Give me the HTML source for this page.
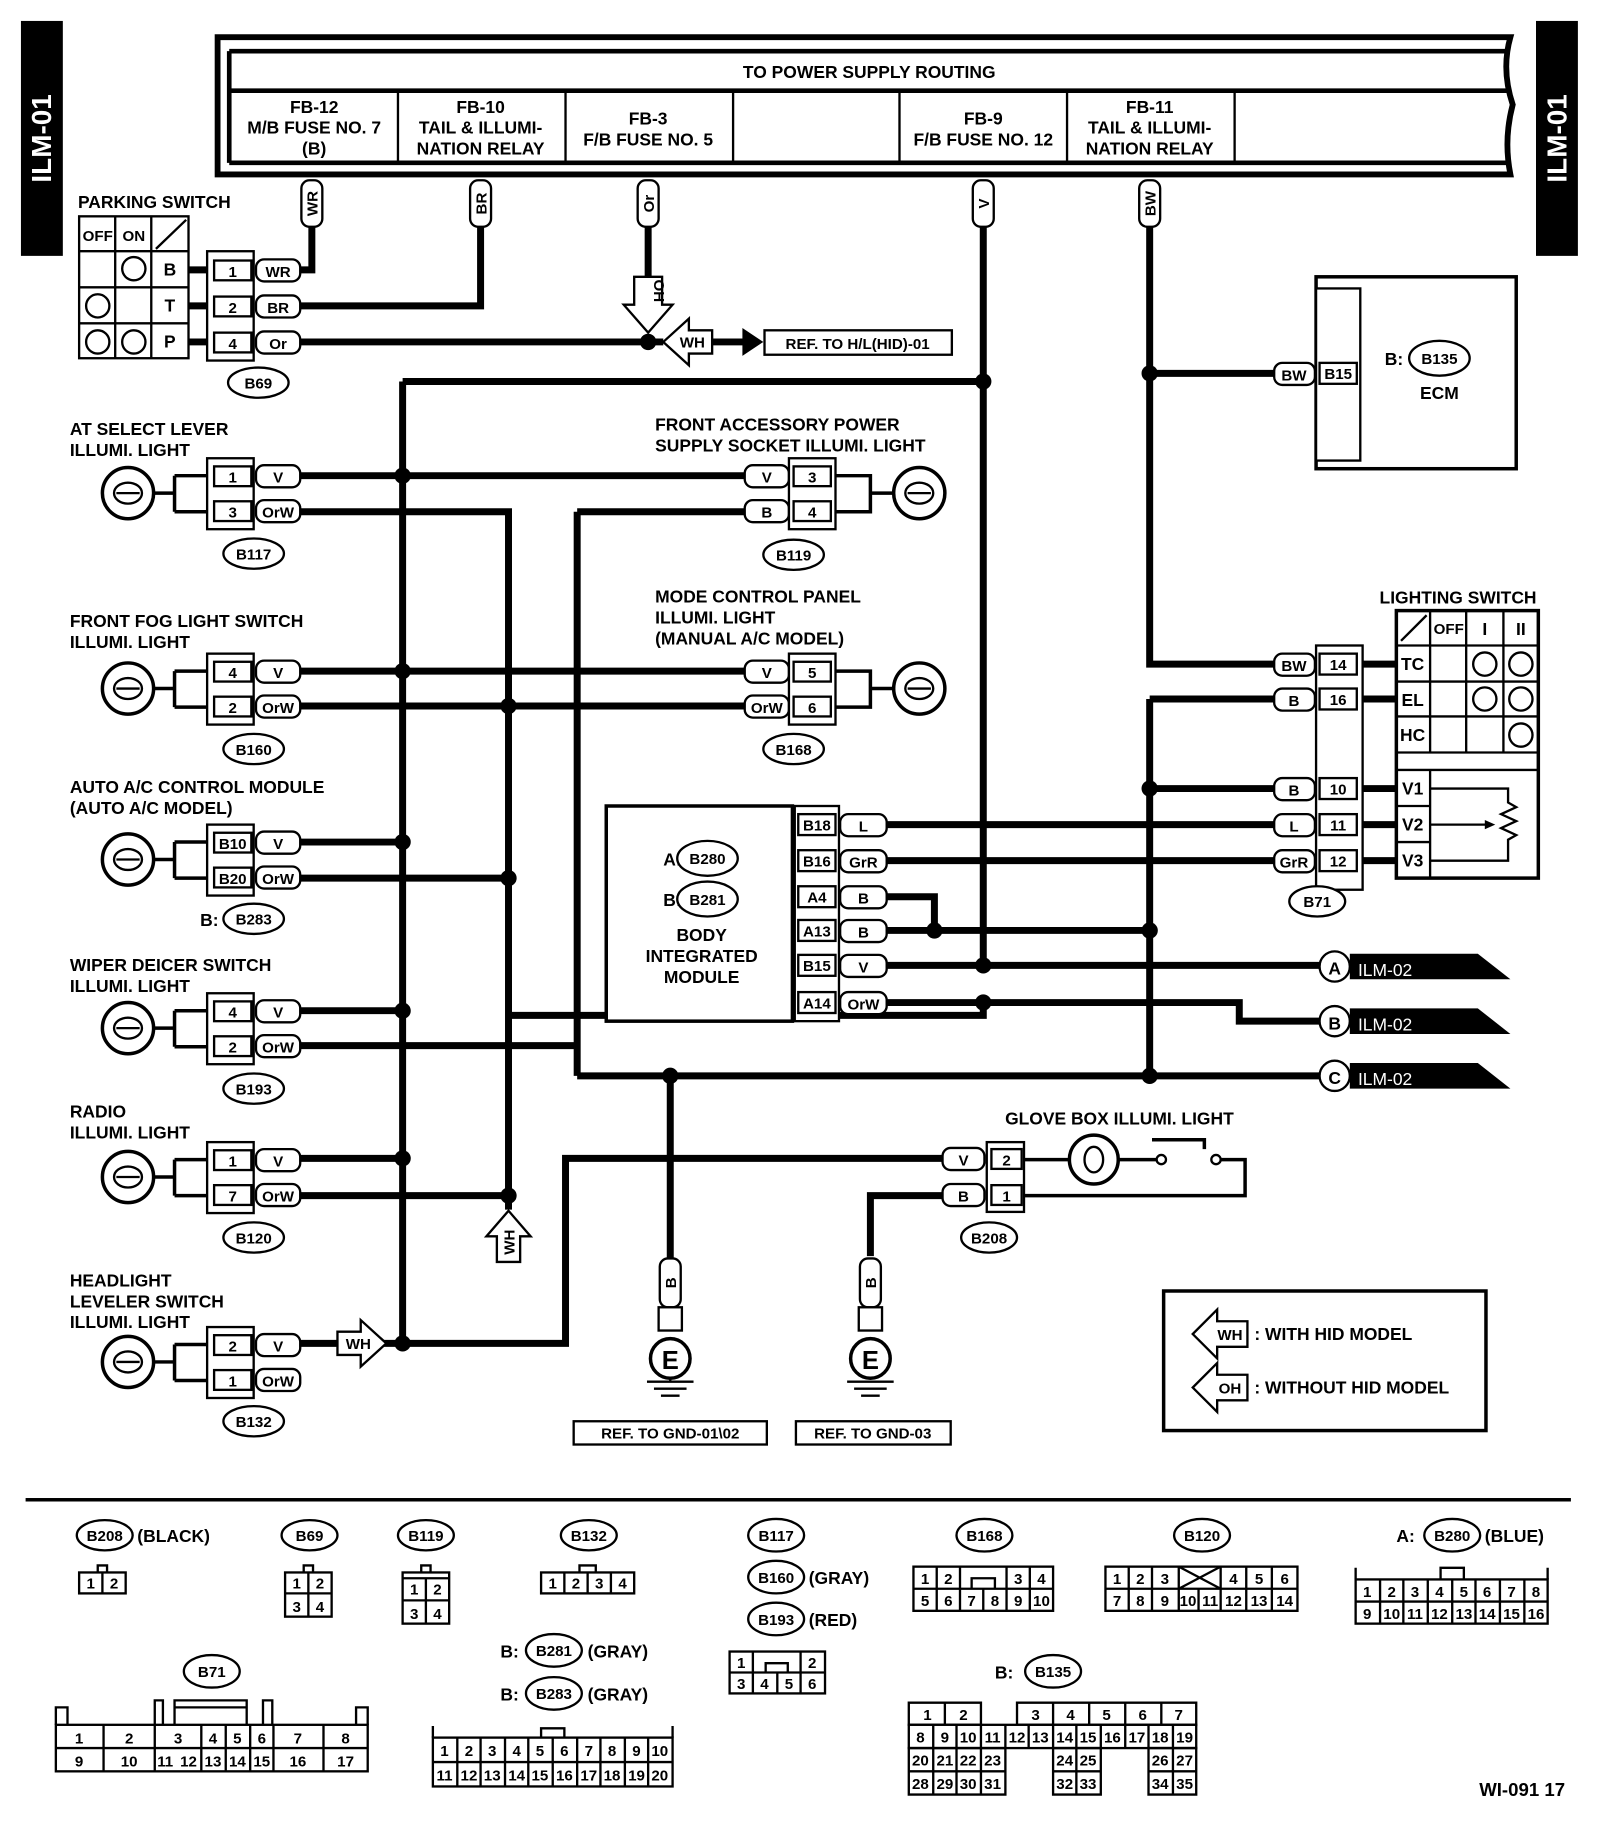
<!DOCTYPE html>
<html><head><meta charset="utf-8"><style>
html,body{margin:0;padding:0;background:#fff;}
svg{display:block;}
text{font-family:"Liberation Sans Narrow","Liberation Sans",sans-serif;font-weight:bold;fill:#000;}
.t{font-size:15px;}
.s{font-size:13px;}
.c{text-anchor:middle;}
.w{fill:none;stroke:#000;stroke-width:6;}
.th{fill:none;stroke:#000;stroke-width:2;}
.bx{fill:#fff;stroke:#000;stroke-width:2;}
</style></head><body>
<svg width="1600" height="1826" viewBox="0 0 1375 1570" preserveAspectRatio="none" xmlns="http://www.w3.org/2000/svg">
<defs>
<g id="dot"><circle r="7" fill="#000"/></g>
</defs>
<!-- side tabs -->
<rect x="18" y="18" width="36" height="202" fill="#000"/>
<text transform="translate(44,119) rotate(-90)" class="c" style="font-size:24px;fill:#fff;font-family:'Liberation Sans',sans-serif">ILM-01</text>
<rect x="1320" y="18" width="36" height="202" fill="#000"/>
<text transform="translate(1346,119) rotate(-90)" class="c" style="font-size:24px;fill:#fff;font-family:'Liberation Sans',sans-serif">ILM-01</text>

<!-- header box -->
<path d="M187 32 H1298 Q1290 60 1300 90 Q1292 120 1298 150 H187 Z" fill="#fff" stroke="#000" stroke-width="5"/>
<path d="M197 44 H1295 M197 140 H1295 M197 44 V140 M197 78 H1295" class="th" style="stroke-width:4"/>
<path d="M342 78 V140 M486 78 V140 M630 78 V140 M773 78 V140 M917 78 V140 M1061 78 V140" class="th"/>
<text x="747" y="67" class="t c">TO POWER SUPPLY ROUTING</text>
<text x="270" y="97" class="t c">FB-12</text><text x="270" y="115" class="t c">M/B FUSE NO. 7</text><text x="270" y="133" class="t c">(B)</text>
<text x="413" y="97" class="t c">FB-10</text><text x="413" y="115" class="t c">TAIL &amp; ILLUMI-</text><text x="413" y="133" class="t c">NATION RELAY</text>
<text x="557" y="107" class="t c">FB-3</text><text x="557" y="125" class="t c">F/B FUSE NO. 5</text>
<text x="845" y="107" class="t c">FB-9</text><text x="845" y="125" class="t c">F/B FUSE NO. 12</text>
<text x="988" y="97" class="t c">FB-11</text><text x="988" y="115" class="t c">TAIL &amp; ILLUMI-</text><text x="988" y="133" class="t c">NATION RELAY</text>

<!-- wires -->
<g class="w">
<path d="M268 195 V232 H258"/>
<path d="M413 195 V263 H258"/>
<path d="M557 195 V240"/>
<path d="M258 294 H570"/>
<path d="M612 294 H640"/>
<path d="M845 195 V830"/>
<path d="M346 328 H845"/>
<path d="M346 328 V1155"/>
<path d="M988 195 V571 H1095"/>
<path d="M988 321 H1095"/>
<path d="M988 601 H1095"/>
<path d="M988 601 V925"/>
<path d="M988 678 H1095"/>
<path d="M762 709 H1095"/>
<path d="M762 740 H1095"/>
<path d="M762 771 H803 V800"/>
<path d="M762 800 H988"/>
<path d="M762 830 H1135"/>
<path d="M762 862 H1065 V878 H1135"/>
<path d="M845 862 V873 H437"/>
<path d="M496 925 H1135"/>
<path d="M496 440 V925"/>
<path d="M496 440 H640"/>
<path d="M258 409 H640"/>
<path d="M258 440 H437 V1040"/>
<path d="M258 577 H640"/>
<path d="M258 607 H640"/>
<path d="M258 724 H346"/>
<path d="M258 755 H437"/>
<path d="M258 869 H346"/>
<path d="M258 899 H496"/>
<path d="M258 996 H346"/>
<path d="M258 1028 H437"/>
<path d="M258 1155 H290"/>
<path d="M330 1155 H486 V996 H810"/>
<path d="M748 1080 V1028 H810"/>
<path d="M576 925 V1082"/>
</g>
<g>
<use href="#dot" x="557" y="294"/><use href="#dot" x="845" y="328"/><use href="#dot" x="988" y="321"/>
<use href="#dot" x="346" y="409"/><use href="#dot" x="346" y="577"/><use href="#dot" x="437" y="607"/>
<use href="#dot" x="346" y="724"/><use href="#dot" x="437" y="755"/><use href="#dot" x="346" y="869"/>
<use href="#dot" x="346" y="996"/><use href="#dot" x="437" y="1028"/><use href="#dot" x="346" y="1155"/>
<use href="#dot" x="988" y="678"/><use href="#dot" x="803" y="800"/><use href="#dot" x="988" y="800"/>
<use href="#dot" x="845" y="830"/><use href="#dot" x="845" y="862"/><use href="#dot" x="988" y="925"/><use href="#dot" x="576" y="925"/>
</g>

<!-- vertical wire tags -->
<g>
<rect x="259" y="155" width="18" height="40" rx="7" class="bx"/><text transform="translate(273,175) rotate(-90)" class="s c">WR</text>
<rect x="404" y="155" width="18" height="40" rx="7" class="bx"/><text transform="translate(418,175) rotate(-90)" class="s c">BR</text>
<rect x="548" y="155" width="18" height="40" rx="7" class="bx"/><text transform="translate(562,175) rotate(-90)" class="s c">Or</text>
<rect x="836" y="155" width="18" height="40" rx="7" class="bx"/><text transform="translate(850,175) rotate(-90)" class="s c">V</text>
<rect x="979" y="155" width="18" height="40" rx="7" class="bx"/><text transform="translate(993,175) rotate(-90)" class="s c">BW</text>
</g>

<!-- OH arrow down -->
<path d="M545 238 H569 V262 H578 L557 286 L536 262 H545 Z" class="bx"/>
<text transform="translate(562,250) rotate(90)" class="s c">OH</text>
<!-- WH arrow left -->
<path d="M612 284 V304 H592 V314 L570 294 L592 274 V284 Z" class="bx"/>
<text x="595" y="299" class="s c">WH</text>
<path d="M638 282 L656 294 L638 306 Z" fill="#000"/>
<rect x="657" y="284" width="161" height="21" class="bx"/>
<text x="737" y="300" class="s c">REF. TO H/L(HID)-01</text>

<!-- parking switch -->
<text x="67" y="179" class="t">PARKING SWITCH</text>
<rect x="68" y="186" width="94" height="122" class="bx"/>
<path d="M68 216 H162 M68 247 H162 M68 278 H162 M99 186 V308 M130 186 V308 M134 214 L160 189" class="th"/>
<text x="84" y="207" class="s c">OFF</text><text x="115" y="207" class="s c">ON</text>
<circle cx="115" cy="231" r="10" class="th"/><circle cx="84" cy="263" r="10" class="th"/>
<circle cx="84" cy="294" r="10" class="th"/><circle cx="115" cy="294" r="10" class="th"/>
<text x="146" y="237" class="t c">B</text><text x="146" y="268" class="t c">T</text><text x="146" y="299" class="t c">P</text>
<path d="M162 232 H178 M162 263 H178 M162 294 H178" class="w"/>
<rect x="178" y="216" width="40" height="94" class="bx"/>
<rect x="184" y="224" width="32" height="17" class="bx"/><text x="200" y="238" class="s c">1</text>
<rect x="184" y="255" width="32" height="17" class="bx"/><text x="200" y="269" class="s c">2</text>
<rect x="184" y="286" width="32" height="17" class="bx"/><text x="200" y="300" class="s c">4</text>
<rect x="220" y="223" width="38" height="19" rx="7" class="bx"/><text x="239" y="238" class="s c">WR</text>
<rect x="220" y="254" width="38" height="19" rx="7" class="bx"/><text x="239" y="269" class="s c">BR</text>
<rect x="220" y="285" width="38" height="19" rx="7" class="bx"/><text x="239" y="300" class="s c">Or</text>
<ellipse cx="222" cy="329" rx="26" ry="13" class="bx"/><text x="222" y="334" class="s c">B69</text>

<!-- left components -->
<g id="lc">
</g>
<!-- AT select -->
<text x="60" y="374" class="t">AT SELECT LEVER</text><text x="60" y="392" class="t">ILLUMI. LIGHT</text>
<!-- front fog -->
<text x="60" y="539" class="t">FRONT FOG LIGHT SWITCH</text><text x="60" y="557" class="t">ILLUMI. LIGHT</text>
<text x="60" y="682" class="t">AUTO A/C CONTROL MODULE</text><text x="60" y="700" class="t">(AUTO A/C MODEL)</text>
<text x="60" y="835" class="t">WIPER DEICER SWITCH</text><text x="60" y="853" class="t">ILLUMI. LIGHT</text>
<text x="60" y="961" class="t">RADIO</text><text x="60" y="979" class="t">ILLUMI. LIGHT</text>
<text x="60" y="1106" class="t">HEADLIGHT</text><text x="60" y="1124" class="t">LEVELER SWITCH</text><text x="60" y="1142" class="t">ILLUMI. LIGHT</text>

<!-- generic left connector: bulb + connector -->
<g>
<!-- helper repeated -->
<g transform="translate(0,409)">
<circle cx="110" cy="15" r="22" class="th" style="stroke-width:3"/><ellipse cx="110" cy="15" rx="12" ry="9" class="th"/><path d="M100 15 H120" class="th"/>
<path d="M132 15 H150 M150 0 V31 M150 0 H178 M150 31 H178" class="th" style="stroke-width:3"/>
<rect x="178" y="-15" width="40" height="61" class="bx"/>
<rect x="184" y="-8" width="32" height="17" class="bx"/><rect x="184" y="22" width="32" height="17" class="bx"/>
<rect x="220" y="-9" width="38" height="19" rx="7" class="bx"/><rect x="220" y="21" width="38" height="19" rx="7" class="bx"/>
<text x="200" y="6" class="s c">1</text><text x="200" y="36" class="s c">3</text>
<text x="239" y="6" class="s c">V</text><text x="239" y="36" class="s c">OrW</text>
</g>
<ellipse cx="218" cy="476" rx="26" ry="13" class="bx"/><text x="218" y="481" class="s c">B117</text>

<g transform="translate(0,577)">
<circle cx="110" cy="15" r="22" class="th" style="stroke-width:3"/><ellipse cx="110" cy="15" rx="12" ry="9" class="th"/><path d="M100 15 H120" class="th"/>
<path d="M132 15 H150 M150 0 V31 M150 0 H178 M150 31 H178" class="th" style="stroke-width:3"/>
<rect x="178" y="-15" width="40" height="61" class="bx"/>
<rect x="184" y="-8" width="32" height="17" class="bx"/><rect x="184" y="22" width="32" height="17" class="bx"/>
<rect x="220" y="-9" width="38" height="19" rx="7" class="bx"/><rect x="220" y="21" width="38" height="19" rx="7" class="bx"/>
<text x="200" y="6" class="s c">4</text><text x="200" y="36" class="s c">2</text>
<text x="239" y="6" class="s c">V</text><text x="239" y="36" class="s c">OrW</text>
</g>
<ellipse cx="218" cy="644" rx="26" ry="13" class="bx"/><text x="218" y="649" class="s c">B160</text>

<g transform="translate(0,724)">
<circle cx="110" cy="15" r="22" class="th" style="stroke-width:3"/><ellipse cx="110" cy="15" rx="12" ry="9" class="th"/><path d="M100 15 H120" class="th"/>
<path d="M132 15 H150 M150 0 V31 M150 0 H178 M150 31 H178" class="th" style="stroke-width:3"/>
<rect x="178" y="-15" width="40" height="61" class="bx"/>
<rect x="184" y="-8" width="32" height="17" class="bx"/><rect x="184" y="22" width="32" height="17" class="bx"/>
<rect x="220" y="-9" width="38" height="19" rx="7" class="bx"/><rect x="220" y="21" width="38" height="19" rx="7" class="bx"/>
<text x="200" y="6" class="s c">B10</text><text x="200" y="36" class="s c">B20</text>
<text x="239" y="6" class="s c">V</text><text x="239" y="36" class="s c">OrW</text>
</g>
<text x="172" y="796" class="t">B:</text>
<ellipse cx="218" cy="790" rx="26" ry="13" class="bx"/><text x="218" y="795" class="s c">B283</text>

<g transform="translate(0,869)">
<circle cx="110" cy="15" r="22" class="th" style="stroke-width:3"/><ellipse cx="110" cy="15" rx="12" ry="9" class="th"/><path d="M100 15 H120" class="th"/>
<path d="M132 15 H150 M150 0 V31 M150 0 H178 M150 31 H178" class="th" style="stroke-width:3"/>
<rect x="178" y="-15" width="40" height="61" class="bx"/>
<rect x="184" y="-8" width="32" height="17" class="bx"/><rect x="184" y="22" width="32" height="17" class="bx"/>
<rect x="220" y="-9" width="38" height="19" rx="7" class="bx"/><rect x="220" y="21" width="38" height="19" rx="7" class="bx"/>
<text x="200" y="6" class="s c">4</text><text x="200" y="36" class="s c">2</text>
<text x="239" y="6" class="s c">V</text><text x="239" y="36" class="s c">OrW</text>
</g>
<ellipse cx="218" cy="936" rx="26" ry="13" class="bx"/><text x="218" y="941" class="s c">B193</text>

<g transform="translate(0,997)">
<circle cx="110" cy="15" r="22" class="th" style="stroke-width:3"/><ellipse cx="110" cy="15" rx="12" ry="9" class="th"/><path d="M100 15 H120" class="th"/>
<path d="M132 15 H150 M150 0 V31 M150 0 H178 M150 31 H178" class="th" style="stroke-width:3"/>
<rect x="178" y="-15" width="40" height="61" class="bx"/>
<rect x="184" y="-8" width="32" height="17" class="bx"/><rect x="184" y="22" width="32" height="17" class="bx"/>
<rect x="220" y="-9" width="38" height="19" rx="7" class="bx"/><rect x="220" y="21" width="38" height="19" rx="7" class="bx"/>
<text x="200" y="6" class="s c">1</text><text x="200" y="36" class="s c">7</text>
<text x="239" y="6" class="s c">V</text><text x="239" y="36" class="s c">OrW</text>
</g>
<ellipse cx="218" cy="1064" rx="26" ry="13" class="bx"/><text x="218" y="1069" class="s c">B120</text>

<g transform="translate(0,1156)">
<circle cx="110" cy="15" r="22" class="th" style="stroke-width:3"/><ellipse cx="110" cy="15" rx="12" ry="9" class="th"/><path d="M100 15 H120" class="th"/>
<path d="M132 15 H150 M150 0 V31 M150 0 H178 M150 31 H178" class="th" style="stroke-width:3"/>
<rect x="178" y="-15" width="40" height="61" class="bx"/>
<rect x="184" y="-8" width="32" height="17" class="bx"/><rect x="184" y="22" width="32" height="17" class="bx"/>
<rect x="220" y="-9" width="38" height="19" rx="7" class="bx"/><rect x="220" y="21" width="38" height="19" rx="7" class="bx"/>
<text x="200" y="6" class="s c">2</text><text x="200" y="36" class="s c">1</text>
<text x="239" y="6" class="s c">V</text><text x="239" y="36" class="s c">OrW</text>
</g>
<ellipse cx="218" cy="1222" rx="26" ry="13" class="bx"/><text x="218" y="1227" class="s c">B132</text>
</g>

<!-- WH arrow right on HL leveler -->
<path d="M290 1145 H310 V1135 L332 1155 L310 1175 V1165 H290 Z" class="bx"/>
<text x="308" y="1160" class="s c">WH</text>
<!-- WH arrow up on x437 -->
<path d="M427 1085 V1063 H418 L437 1041 L456 1063 H447 V1085 Z" class="bx"/>
<text transform="translate(442,1068) rotate(-90)" class="s c">WH</text>

<!-- right bulbs (front acc / mode ctrl) -->
<text x="563" y="370" class="t">FRONT ACCESSORY POWER</text><text x="563" y="388" class="t">SUPPLY SOCKET ILLUMI. LIGHT</text>
<text x="563" y="518" class="t">MODE CONTROL PANEL</text><text x="563" y="536" class="t">ILLUMI. LIGHT</text><text x="563" y="554" class="t">(MANUAL A/C MODEL)</text>
<g transform="translate(0,409)">
<rect x="640" y="-9" width="38" height="19" rx="7" class="bx"/><rect x="640" y="21" width="38" height="19" rx="7" class="bx"/>
<rect x="678" y="-15" width="40" height="61" class="bx"/>
<rect x="682" y="-8" width="32" height="17" class="bx"/><rect x="682" y="22" width="32" height="17" class="bx"/>
<text x="659" y="6" class="s c">V</text><text x="659" y="36" class="s c">B</text>
<text x="698" y="6" class="s c">3</text><text x="698" y="36" class="s c">4</text>
<path d="M718 0 H748 V31 H718 M748 15 H768" class="th" style="stroke-width:3"/>
<circle cx="790" cy="15" r="22" class="th" style="stroke-width:3"/><ellipse cx="790" cy="15" rx="12" ry="9" class="th"/><path d="M780 15 H800" class="th"/>
</g>
<ellipse cx="682" cy="477" rx="26" ry="13" class="bx"/><text x="682" y="482" class="s c">B119</text>
<g transform="translate(0,577)">
<rect x="640" y="-9" width="38" height="19" rx="7" class="bx"/><rect x="640" y="21" width="38" height="19" rx="7" class="bx"/>
<rect x="678" y="-15" width="40" height="61" class="bx"/>
<rect x="682" y="-8" width="32" height="17" class="bx"/><rect x="682" y="22" width="32" height="17" class="bx"/>
<text x="659" y="6" class="s c">V</text><text x="659" y="36" class="s c">OrW</text>
<text x="698" y="6" class="s c">5</text><text x="698" y="36" class="s c">6</text>
<path d="M718 0 H748 V31 H718 M748 15 H768" class="th" style="stroke-width:3"/>
<circle cx="790" cy="15" r="22" class="th" style="stroke-width:3"/><ellipse cx="790" cy="15" rx="12" ry="9" class="th"/><path d="M780 15 H800" class="th"/>
</g>
<ellipse cx="682" cy="644" rx="26" ry="13" class="bx"/><text x="682" y="649" class="s c">B168</text>

<!-- body integrated module -->
<rect x="521" y="693" width="160" height="185" class="bx" style="stroke-width:3"/>
<rect x="683" y="693" width="38" height="185" class="bx"/>
<text x="570" y="744" class="t">A:</text><ellipse cx="608" cy="738" rx="26" ry="15" class="bx"/><text x="608" y="743" class="s c">B280</text>
<text x="570" y="779" class="t">B:</text><ellipse cx="608" cy="773" rx="26" ry="15" class="bx"/><text x="608" y="778" class="s c">B281</text>
<text x="603" y="809" class="t c">BODY</text><text x="603" y="827" class="t c">INTEGRATED</text><text x="603" y="845" class="t c">MODULE</text>
<g>
<rect x="686" y="700" width="32" height="18" class="bx"/><text x="702" y="714" class="s c">B18</text>
<rect x="686" y="731" width="32" height="18" class="bx"/><text x="702" y="745" class="s c">B16</text>
<rect x="686" y="762" width="32" height="18" class="bx"/><text x="702" y="776" class="s c">A4</text>
<rect x="686" y="791" width="32" height="18" class="bx"/><text x="702" y="805" class="s c">A13</text>
<rect x="686" y="821" width="32" height="18" class="bx"/><text x="702" y="835" class="s c">B15</text>
<rect x="686" y="853" width="32" height="18" class="bx"/><text x="702" y="867" class="s c">A14</text>
<rect x="722" y="700" width="40" height="19" rx="7" class="bx"/><text x="742" y="715" class="s c">L</text>
<rect x="722" y="731" width="40" height="19" rx="7" class="bx"/><text x="742" y="746" class="s c">GrR</text>
<rect x="722" y="762" width="40" height="19" rx="7" class="bx"/><text x="742" y="777" class="s c">B</text>
<rect x="722" y="791" width="40" height="19" rx="7" class="bx"/><text x="742" y="806" class="s c">B</text>
<rect x="722" y="821" width="40" height="19" rx="7" class="bx"/><text x="742" y="836" class="s c">V</text>
<rect x="722" y="853" width="40" height="19" rx="7" class="bx"/><text x="742" y="868" class="s c">OrW</text>
</g>

<!-- ILM-02 flags -->
<g>
<path d="M1160 820 H1270 L1298 842 H1160 Z" fill="#000"/><circle cx="1147" cy="831" r="13" class="bx"/><text x="1147" y="838" class="t c">A</text><text x="1167" y="839" style="font-size:15px;fill:#fff;font-family:'Liberation Sans',sans-serif;font-weight:normal">ILM-02</text>
<path d="M1160 867 H1270 L1298 889 H1160 Z" fill="#000"/><circle cx="1147" cy="878" r="13" class="bx"/><text x="1147" y="885" class="t c">B</text><text x="1167" y="886" style="font-size:15px;fill:#fff;font-family:'Liberation Sans',sans-serif;font-weight:normal">ILM-02</text>
<path d="M1160 914 H1270 L1298 936 H1160 Z" fill="#000"/><circle cx="1147" cy="925" r="13" class="bx"/><text x="1147" y="932" class="t c">C</text><text x="1167" y="933" style="font-size:15px;fill:#fff;font-family:'Liberation Sans',sans-serif;font-weight:normal">ILM-02</text>
</g>

<!-- ECM -->
<rect x="1131" y="238" width="172" height="165" class="bx" style="stroke-width:3"/>
<rect x="1131" y="248" width="38" height="148" class="bx"/>
<rect x="1095" y="312" width="35" height="19" rx="7" class="bx"/><text x="1112" y="327" class="s c">BW</text>
<rect x="1134" y="312" width="32" height="18" class="bx"/><text x="1150" y="326" class="s c">B15</text>
<text x="1190" y="314" class="t">B:</text><ellipse cx="1237" cy="308" rx="26" ry="15" class="bx"/><text x="1237" y="313" class="s c">B135</text>
<text x="1237" y="343" class="t c">ECM</text>

<!-- B71 + lighting switch -->
<rect x="1131" y="555" width="40" height="210" class="bx"/>
<g>
<rect x="1095" y="562" width="35" height="19" rx="7" class="bx"/><text x="1112" y="577" class="s c">BW</text>
<rect x="1095" y="592" width="35" height="19" rx="7" class="bx"/><text x="1112" y="607" class="s c">B</text>
<rect x="1095" y="669" width="35" height="19" rx="7" class="bx"/><text x="1112" y="684" class="s c">B</text>
<rect x="1095" y="700" width="35" height="19" rx="7" class="bx"/><text x="1112" y="715" class="s c">L</text>
<rect x="1095" y="731" width="35" height="19" rx="7" class="bx"/><text x="1112" y="746" class="s c">GrR</text>
<rect x="1134" y="562" width="32" height="18" class="bx"/><text x="1150" y="576" class="s c">14</text>
<rect x="1134" y="592" width="32" height="18" class="bx"/><text x="1150" y="606" class="s c">16</text>
<rect x="1134" y="669" width="32" height="18" class="bx"/><text x="1150" y="683" class="s c">10</text>
<rect x="1134" y="700" width="32" height="18" class="bx"/><text x="1150" y="714" class="s c">11</text>
<rect x="1134" y="731" width="32" height="18" class="bx"/><text x="1150" y="745" class="s c">12</text>
</g>
<path d="M1171 571 H1200 M1171 601 H1200 M1171 678 H1200 M1171 709 H1200 M1171 740 H1200" class="w"/>
<ellipse cx="1132" cy="775" rx="24" ry="13" class="bx"/><text x="1132" y="780" class="s c">B71</text>
<text x="1253" y="519" class="t c">LIGHTING SWITCH</text>
<rect x="1200" y="525" width="122" height="230" class="bx" style="stroke-width:3"/>
<path d="M1200 555 H1322 M1200 586 H1322 M1200 616 H1322 M1200 647 H1322 M1200 662 H1322 M1200 693 H1229 M1200 724 H1229 M1229 525 V647 M1229 662 V755 M1260 525 V647 M1292 525 V647 M1204 551 L1226 529" class="th"/>
<text x="1245" y="545" class="s c">OFF</text><text x="1276" y="546" class="t c">I</text><text x="1307" y="546" class="t c">II</text>
<text x="1214" y="576" class="t c">TC</text><text x="1214" y="607" class="t c">EL</text><text x="1214" y="637" class="t c">HC</text>
<text x="1214" y="683" class="t c">V1</text><text x="1214" y="714" class="t c">V2</text><text x="1214" y="745" class="t c">V3</text>
<circle cx="1276" cy="571" r="10" class="th"/><circle cx="1276" cy="601" r="10" class="th"/>
<circle cx="1307" cy="571" r="10" class="th"/><circle cx="1307" cy="601" r="10" class="th"/><circle cx="1307" cy="632" r="10" class="th"/>
<path d="M1229 678 H1296 V690 L1303 694 L1290 700 L1303 706 L1290 712 L1303 718 L1296 722 V740 H1229 M1229 709 H1280" class="th"/>
<path d="M1276 705 L1285 709 L1276 713 Z" fill="#000"/>

<!-- grounds -->
<rect x="567" y="1082" width="18" height="42" rx="7" class="bx"/><text transform="translate(581,1103) rotate(-90)" class="s c">B</text>
<rect x="566" y="1124" width="20" height="20" class="bx"/>
<circle cx="576" cy="1168" r="17" class="bx" style="stroke-width:3"/><text x="576" y="1177" class="c" style="font-size:22px">E</text>
<path d="M556 1188 H596 M562 1194 H590 M568 1200 H584 M576 1185 V1188" class="th"/>
<rect x="493" y="1222" width="166" height="20" class="bx"/><text x="576" y="1237" class="s c">REF. TO GND-01\02</text>
<rect x="739" y="1082" width="18" height="42" rx="7" class="bx"/><text transform="translate(753,1103) rotate(-90)" class="s c">B</text>
<rect x="738" y="1124" width="20" height="20" class="bx"/>
<circle cx="748" cy="1168" r="17" class="bx" style="stroke-width:3"/><text x="748" y="1177" class="c" style="font-size:22px">E</text>
<path d="M728 1188 H768 M734 1194 H762 M740 1200 H756" class="th"/>
<rect x="684" y="1222" width="133" height="20" class="bx"/><text x="750" y="1237" class="s c">REF. TO GND-03</text>

<!-- glove box -->
<text x="962" y="967" class="t c">GLOVE BOX ILLUMI. LIGHT</text>
<rect x="810" y="987" width="36" height="19" rx="7" class="bx"/><text x="828" y="1002" class="s c">V</text>
<rect x="810" y="1018" width="36" height="19" rx="7" class="bx"/><text x="828" y="1033" class="s c">B</text>
<rect x="848" y="982" width="32" height="60" class="bx"/>
<rect x="852" y="988" width="26" height="17" class="bx"/><text x="865" y="1002" class="s c">2</text>
<rect x="852" y="1019" width="26" height="17" class="bx"/><text x="865" y="1033" class="s c">1</text>
<ellipse cx="850" cy="1064" rx="24" ry="13" class="bx"/><text x="850" y="1069" class="s c">B208</text>
<path d="M880 997 H918 M962 997 H995 M1045 997 H1070 V1028 H880" class="th" style="stroke-width:3"/>
<circle cx="940" cy="997" r="21" class="th" style="stroke-width:3"/><ellipse cx="940" cy="997" rx="8" ry="11" class="th"/>
<circle cx="998" cy="997" r="4" class="bx"/><circle cx="1045" cy="997" r="4" class="bx"/>
<path d="M990 980 H1035 V988" class="th" style="stroke-width:3"/>

<!-- legend -->
<rect x="1000" y="1110" width="277" height="120" class="bx" style="stroke-width:3"/>
<path d="M1072 1136 V1158 H1046 V1168 L1025 1147 L1046 1126 V1136 Z" class="bx"/><text x="1057" y="1152" class="s c">WH</text>
<text x="1078" y="1152" class="t">: WITH HID MODEL</text>
<path d="M1072 1182 V1204 H1046 V1214 L1025 1193 L1046 1172 V1182 Z" class="bx"/><text x="1057" y="1198" class="s c">OH</text>
<text x="1078" y="1198" class="t">: WITHOUT HID MODEL</text>

<!-- bottom separator -->
<rect x="22" y="1288" width="1328" height="3" fill="#000"/>

<!-- bottom connector views -->
<g class="s">
<ellipse cx="90" cy="1320" rx="24" ry="13" class="bx"/><text x="90" y="1325" class="s c">B208</text><text x="118" y="1326" class="t">(BLACK)</text>
<rect x="68" y="1352" width="40" height="18" class="bx"/><path d="M88 1352 V1370 M84 1352 V1346 H92 V1352" class="th"/><text x="78" y="1366" class="s c">1</text><text x="98" y="1366" class="s c">2</text>

<ellipse cx="266" cy="1320" rx="24" ry="13" class="bx"/><text x="266" y="1325" class="s c">B69</text>
<rect x="245" y="1352" width="40" height="38" class="bx"/><path d="M265 1352 V1390 M245 1370 H285 M261 1352 V1346 H269 V1352" class="th"/>
<text x="255" y="1366" class="s c">1</text><text x="275" y="1366" class="s c">2</text><text x="255" y="1386" class="s c">3</text><text x="275" y="1386" class="s c">4</text>

<ellipse cx="366" cy="1320" rx="24" ry="13" class="bx"/><text x="366" y="1325" class="s c">B119</text>
<rect x="346" y="1352" width="40" height="44" class="bx"/><path d="M346 1357 H386 M366 1357 V1396 M346 1376 H386 M362 1352 V1346 H370 V1352" class="th"/>
<text x="356" y="1371" class="s c">1</text><text x="376" y="1371" class="s c">2</text><text x="356" y="1392" class="s c">3</text><text x="376" y="1392" class="s c">4</text>

<ellipse cx="506" cy="1320" rx="24" ry="13" class="bx"/><text x="506" y="1325" class="s c">B132</text>
<rect x="465" y="1352" width="80" height="18" class="bx"/><path d="M485 1352 V1370 M505 1352 V1370 M525 1352 V1370 M498 1352 V1346 H512 V1352" class="th"/>
<text x="475" y="1366" class="s c">1</text><text x="495" y="1366" class="s c">2</text><text x="515" y="1366" class="s c">3</text><text x="535" y="1366" class="s c">4</text>

<ellipse cx="667" cy="1320" rx="24" ry="14" class="bx"/><text x="667" y="1325" class="s c">B117</text>
<ellipse cx="667" cy="1356" rx="24" ry="14" class="bx"/><text x="667" y="1361" class="s c">B160</text><text x="695" y="1362" class="t">(GRAY)</text>
<ellipse cx="667" cy="1392" rx="24" ry="14" class="bx"/><text x="667" y="1397" class="s c">B193</text><text x="695" y="1398" class="t">(RED)</text>
<rect x="627" y="1420" width="82" height="36" class="bx"/><path d="M627 1438 H709 M647 1420 V1456 M668 1438 V1456 M688 1420 V1456 M658 1438 V1430 H677 V1438" class="th"/>
<text x="637" y="1434" class="s c">1</text><text x="698" y="1434" class="s c">2</text>
<text x="637" y="1452" class="s c">3</text><text x="657" y="1452" class="s c">4</text><text x="678" y="1452" class="s c">5</text><text x="698" y="1452" class="s c">6</text>

<ellipse cx="846" cy="1320" rx="24" ry="14" class="bx"/><text x="846" y="1325" class="s c">B168</text>
<rect x="785" y="1347" width="120" height="38" class="bx"/><path d="M785 1366 H905 M805 1347 V1385 M825 1347 V1385 M845 1366 V1385 M865 1347 V1385 M885 1347 V1385 M835 1366 V1357 H855 V1366" class="th"/>
<text x="795" y="1362" class="s c">1</text><text x="815" y="1362" class="s c">2</text><text x="875" y="1362" class="s c">3</text><text x="895" y="1362" class="s c">4</text>
<text x="795" y="1381" class="s c">5</text><text x="815" y="1381" class="s c">6</text><text x="835" y="1381" class="s c">7</text><text x="855" y="1381" class="s c">8</text><text x="875" y="1381" class="s c">9</text><text x="895" y="1381" class="s c">10</text>

<ellipse cx="1033" cy="1320" rx="24" ry="14" class="bx"/><text x="1033" y="1325" class="s c">B120</text>
<rect x="950" y="1347" width="165" height="38" class="bx"/><path d="M950 1366 H1115 M970 1347 V1385 M990 1347 V1385 M1013 1347 V1385 M1049 1347 V1385 M1071 1347 V1385 M1093 1347 V1385 M1030 1366 V1385 M1013 1347 L1049 1366 M1049 1347 L1013 1366" class="th"/>
<text x="960" y="1362" class="s c">1</text><text x="980" y="1362" class="s c">2</text><text x="1001" y="1362" class="s c">3</text><text x="1060" y="1362" class="s c">4</text><text x="1082" y="1362" class="s c">5</text><text x="1104" y="1362" class="s c">6</text>
<text x="960" y="1381" class="s c">7</text><text x="980" y="1381" class="s c">8</text><text x="1001" y="1381" class="s c">9</text><text x="1021" y="1381" class="s c">10</text><text x="1040" y="1381" class="s c">11</text><text x="1060" y="1381" class="s c">12</text><text x="1082" y="1381" class="s c">13</text><text x="1104" y="1381" class="s c">14</text>

<text x="1200" y="1326" class="t">A:</text><ellipse cx="1248" cy="1320" rx="24" ry="14" class="bx"/><text x="1248" y="1325" class="s c">B280</text><text x="1276" y="1326" class="t">(BLUE)</text>
<rect x="1165" y="1358" width="165" height="38" class="bx"/><path d="M1165 1348 V1358 M1330 1348 V1358 M1165 1377 H1330 M1238 1358 V1348 H1258 V1358" class="th"/>
<path d="M1186 1358 V1396 M1206 1358 V1396 M1227 1358 V1396 M1248 1358 V1396 M1268 1358 V1396 M1289 1358 V1396 M1310 1358 V1396" class="th"/>
<text x="1175" y="1373" class="s c">1</text><text x="1196" y="1373" class="s c">2</text><text x="1216" y="1373" class="s c">3</text><text x="1237" y="1373" class="s c">4</text><text x="1258" y="1373" class="s c">5</text><text x="1278" y="1373" class="s c">6</text><text x="1299" y="1373" class="s c">7</text><text x="1320" y="1373" class="s c">8</text>
<text x="1175" y="1392" class="s c">9</text><text x="1196" y="1392" class="s c">10</text><text x="1216" y="1392" class="s c">11</text><text x="1237" y="1392" class="s c">12</text><text x="1258" y="1392" class="s c">13</text><text x="1278" y="1392" class="s c">14</text><text x="1299" y="1392" class="s c">15</text><text x="1320" y="1392" class="s c">16</text>

<ellipse cx="182" cy="1437" rx="24" ry="14" class="bx"/><text x="182" y="1442" class="s c">B71</text>
<rect x="48" y="1483" width="268" height="40" class="bx"/><path d="M48 1503 H316 M48 1483 V1468 H58 V1483 M306 1483 V1468 H316 V1483 M133 1483 V1462 H140 V1483 M150 1483 V1462 H212 V1483 M150 1468 H212 M226 1483 V1462 H234 V1483" class="th"/>
<path d="M89 1483 V1523 M133 1483 V1523 M173 1483 V1523 M194 1483 V1523 M215 1483 V1523 M235 1483 V1523 M278 1483 V1523" class="th"/>
<text x="68" y="1499" class="s c">1</text><text x="111" y="1499" class="s c">2</text><text x="153" y="1499" class="s c">3</text><text x="183" y="1499" class="s c">4</text><text x="204" y="1499" class="s c">5</text><text x="225" y="1499" class="s c">6</text><text x="256" y="1499" class="s c">7</text><text x="297" y="1499" class="s c">8</text>
<text x="68" y="1519" class="s c">9</text><text x="111" y="1519" class="s c">10</text><text x="142" y="1519" class="s c">11</text><text x="162" y="1519" class="s c">12</text><text x="183" y="1519" class="s c">13</text><text x="204" y="1519" class="s c">14</text><text x="225" y="1519" class="s c">15</text><text x="256" y="1519" class="s c">16</text><text x="297" y="1519" class="s c">17</text>

<text x="430" y="1425" class="t">B:</text><ellipse cx="476" cy="1419" rx="24" ry="14" class="bx"/><text x="476" y="1424" class="s c">B281</text><text x="505" y="1425" class="t">(GRAY)</text>
<text x="430" y="1462" class="t">B:</text><ellipse cx="476" cy="1456" rx="24" ry="14" class="bx"/><text x="476" y="1461" class="s c">B283</text><text x="505" y="1462" class="t">(GRAY)</text>
<rect x="372" y="1494" width="206" height="42" class="bx"/><path d="M372 1494 V1484 M578 1494 V1484 M372 1515 H578 M465 1494 V1486 H485 V1494" class="th"/>
<path d="M393 1494 V1536 M413 1494 V1536 M434 1494 V1536 M454 1494 V1536 M475 1494 V1536 M496 1494 V1536 M516 1494 V1536 M537 1494 V1536 M557 1494 V1536" class="th"/>
<text x="382" y="1510" class="s c">1</text><text x="403" y="1510" class="s c">2</text><text x="423" y="1510" class="s c">3</text><text x="444" y="1510" class="s c">4</text><text x="464" y="1510" class="s c">5</text><text x="485" y="1510" class="s c">6</text><text x="506" y="1510" class="s c">7</text><text x="526" y="1510" class="s c">8</text><text x="547" y="1510" class="s c">9</text><text x="567" y="1510" class="s c">10</text>
<text x="382" y="1531" class="s c">11</text><text x="403" y="1531" class="s c">12</text><text x="423" y="1531" class="s c">13</text><text x="444" y="1531" class="s c">14</text><text x="464" y="1531" class="s c">15</text><text x="485" y="1531" class="s c">16</text><text x="506" y="1531" class="s c">17</text><text x="526" y="1531" class="s c">18</text><text x="547" y="1531" class="s c">19</text><text x="567" y="1531" class="s c">20</text>

<text x="855" y="1443" class="t">B:</text><ellipse cx="905" cy="1437" rx="24" ry="14" class="bx"/><text x="905" y="1442" class="s c">B135</text>
<path d="M781 1464 H843 V1483 H781 Z M874 1464 H1028 V1483 H874 Z M812 1464 V1483 M905 1464 V1483 M936 1464 V1483 M967 1464 V1483 M998 1464 V1483" class="th"/>
<rect x="781" y="1483" width="247" height="20" class="bx"/>
<path d="M802 1483 V1503 M822 1483 V1503 M843 1483 V1503 M864 1483 V1503 M884 1483 V1503 M905 1483 V1503 M925 1483 V1503 M946 1483 V1503 M967 1483 V1503 M987 1483 V1503 M1008 1483 V1503" class="th"/>
<path d="M781 1503 H864 V1543 H781 Z M781 1523 H864 M802 1503 V1543 M822 1503 V1543 M843 1503 V1543" class="th"/>
<path d="M905 1503 H946 V1543 H905 Z M905 1523 H946 M925 1503 V1543" class="th"/>
<path d="M987 1503 H1028 V1543 H987 Z M987 1523 H1028 M1008 1503 V1543" class="th"/>
<text x="797" y="1479" class="s c">1</text><text x="828" y="1479" class="s c">2</text><text x="890" y="1479" class="s c">3</text><text x="920" y="1479" class="s c">4</text><text x="951" y="1479" class="s c">5</text><text x="982" y="1479" class="s c">6</text><text x="1013" y="1479" class="s c">7</text>
<text x="791" y="1498" class="s c">8</text><text x="812" y="1498" class="s c">9</text><text x="832" y="1498" class="s c">10</text><text x="853" y="1498" class="s c">11</text><text x="874" y="1498" class="s c">12</text><text x="894" y="1498" class="s c">13</text><text x="915" y="1498" class="s c">14</text><text x="935" y="1498" class="s c">15</text><text x="956" y="1498" class="s c">16</text><text x="977" y="1498" class="s c">17</text><text x="997" y="1498" class="s c">18</text><text x="1018" y="1498" class="s c">19</text>
<text x="791" y="1518" class="s c">20</text><text x="812" y="1518" class="s c">21</text><text x="832" y="1518" class="s c">22</text><text x="853" y="1518" class="s c">23</text><text x="915" y="1518" class="s c">24</text><text x="935" y="1518" class="s c">25</text><text x="997" y="1518" class="s c">26</text><text x="1018" y="1518" class="s c">27</text>
<text x="791" y="1538" class="s c">28</text><text x="812" y="1538" class="s c">29</text><text x="832" y="1538" class="s c">30</text><text x="853" y="1538" class="s c">31</text><text x="915" y="1538" class="s c">32</text><text x="935" y="1538" class="s c">33</text><text x="997" y="1538" class="s c">34</text><text x="1018" y="1538" class="s c">35</text>
</g>
<text x="1345" y="1544" class="t" style="text-anchor:end;font-size:16px">WI-091 17</text>
</svg>
</body></html>
